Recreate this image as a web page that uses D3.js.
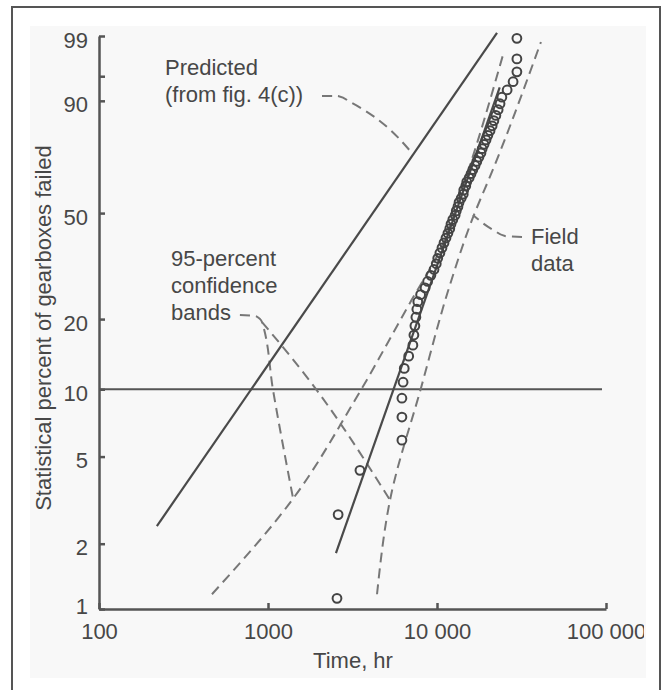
<!DOCTYPE html>
<html lang="en">
<head>
  <meta charset="utf-8">
  <title>Gearbox failures - Weibull plot</title>
  <style>
    body {
      margin: 0;
      background: #fff;
    }

    text {
      font-family: "Liberation Sans", Arial, sans-serif;
      fill: #474747;
    }

    .axis .domain,
    .axis line {
      stroke: #555;
      stroke-width: 2.5;
    }

    .axis text {
      font-size: 22px;
      fill: #474747;
    }
  </style>
</head>

<body>
  <svg width="670" height="690"></svg>
  <script src="https://d3js.org/d3.v7.min.js"></script>
  <script>
    // field data: failure time (hr) and median-rank percent
    var failTimes = [2560, 2600, 3500, 6200, 6200, 6200, 6300, 6400, 6800, 7200,
      7300, 7400, 7500, 7600, 7700, 8000, 8500, 8800, 9200, 9600,
      9900, 10100, 10400, 10700, 11000, 11300, 11600, 11900, 12100, 12400,
      12800, 13000, 13300, 13500, 13900, 14300, 14400, 14800, 15000, 15500,
      15900, 16300, 16800, 17200, 17700, 18200, 18500, 19000, 19500, 20000,
      20600, 21200, 21700, 22300, 23000, 23600, 24200, 26000, 28200, 29700,
      29700, 29700];
    var failPercent = [1.12, 2.72, 4.33, 5.93, 7.53, 9.13, 10.74, 12.34, 13.94, 15.54,
      17.15, 18.75, 20.35, 21.96, 23.56, 25.16, 26.76, 28.37, 29.97, 31.57,
      33.17, 34.78, 36.38, 37.98, 39.58, 41.19, 42.79, 44.39, 45.99, 47.60,
      49.20, 50.80, 52.40, 54.01, 55.61, 57.21, 58.81, 60.42, 62.02, 63.62,
      65.22, 66.83, 68.43, 70.03, 71.63, 73.24, 74.84, 76.44, 78.04, 79.65,
      81.25, 82.85, 84.46, 86.06, 87.66, 89.26, 90.87, 92.47, 94.07, 95.67,
      97.28, 98.88];

    // lines as [time, percent]
    var predictedLine = [[220, 2.41], [22650, 99.14]];
    var fieldFit = [[2524, 1.81], [23500, 93]];
    var lowerBand = [[466, 1.17], [1387, 3.17], [3273, 8.96], [6918, 23.3], [10420, 37.3], [14660, 62.7], [24600, 97.7]];
    var upperBand = [[4416, 1.17], [5272, 3.17], [8035, 10.11], [11620, 26.0], [16110, 47.5], [21720, 67.8], [41200, 98.67]];
    var tenPercentLine = [[100, 10], [94700, 10]];

    // leader lines for the notes
    var predictedLeader = [[2087, 91.14], [2596, 91.14], [3057, 89.7], [7115, 73.2]];
    var fieldLeader = [[31840, 41.52], [25260, 41.86], [22030, 43.6], [16330, 49.3]];
    var bandsLeaderA = [[682, 20.78], [849, 20.58], [921, 19.44], [1071, 9.92], [1406, 3.24]];
    var bandsLeaderB = [[921, 19.44], [1546, 12.37], [5272, 3.17]];

    var xTicks = [100, 1000, 10000, 100000];
    var xTickLabels = ["100", "1000", "10 000", "100 000"];
    var yTicks = [1, 2, 5, 10, 20, 50, 90, 95, 99];
    var yTickLabels = ["1", "2", "5", "10", "20", "50", "90", "", "99"];

    const svg = d3.select("svg");

    // weibull probability transform
    function weib(p) {
      return Math.log(-Math.log(1 - p / 100));
    }

    var x = d3.scaleLog()
      .domain([100, 100000])
      .range([99, 606]);

    var yW = d3.scaleLinear()
      .domain([weib(1), weib(99)])
      .range([609, 36]);

    function y(p) {
      return yW(weib(p));
    }

    // frame and light panel
    svg.append("rect")
      .attr("x", 12).attr("y", 7)
      .attr("width", 648).attr("height", 720)
      .attr("fill", "#fff")
      .attr("stroke", "#555")
      .attr("stroke-width", 2);

    svg.append("rect")
      .attr("x", 30).attr("y", 26)
      .attr("width", 616).attr("height", 652)
      .attr("fill", "#f8f8f8");

    svg.append("clipPath").attr("id", "panel")
      .append("rect")
      .attr("x", 30).attr("y", 26)
      .attr("width", 614).attr("height", 652);

    const g = svg.append("g").attr("clip-path", "url(#panel)");

    var line = d3.line()
      .x(function (d) { return x(d[0]); })
      .y(function (d) { return y(d[1]); });

    // axes
    var xAxis = d3.axisBottom(x)
      .tickValues(xTicks)
      .tickSizeInner(-6)
      .tickSizeOuter(0)
      .tickPadding(14)
      .tickFormat(function (d, i) { return xTickLabels[i]; });

    var yAxis = d3.axisLeft(yW)
      .tickValues(yTicks.map(weib))
      .tickSizeInner(-6)
      .tickSizeOuter(0)
      .tickPadding(11)
      .tickFormat(function (d, i) { return yTickLabels[i]; });

    g.append("g")
      .attr("class", "x axis")
      .attr("transform", "translate(0,609)")
      .call(xAxis);

    g.append("g")
      .attr("class", "y axis")
      .attr("transform", "translate(99,0)")
      .call(yAxis)
      .selectAll(".tick text")
      .attr("dy", function (d, i) { return i == 0 ? "0.2em" : "0.5em"; });

    // 10 percent reference line
    g.append("path")
      .attr("d", line(tenPercentLine))
      .attr("fill", "none")
      .attr("stroke", "#555")
      .attr("stroke-width", 2);

    // dashed bands and leaders
    [lowerBand, upperBand, predictedLeader, fieldLeader, bandsLeaderA, bandsLeaderB].forEach(function (pts) {
      g.append("path")
        .attr("d", line.curve(d3.curveMonotoneY)(pts))
        .attr("fill", "none")
        .attr("stroke", "#777")
        .attr("stroke-width", 2)
        .attr("stroke-dasharray", "10,6");
    });
    line.curve(d3.curveLinear);

    // solid lines
    [predictedLine, fieldFit].forEach(function (pts) {
      g.append("path")
        .attr("d", line(pts))
        .attr("fill", "none")
        .attr("stroke", "#4a4a4a")
        .attr("stroke-width", 2.2);
    });

    // field data points
    g.selectAll(".pt")
      .data(d3.zip(failTimes, failPercent))
      .enter().append("circle")
      .attr("class", "pt")
      .attr("cx", function (d) { return x(d[0]); })
      .attr("cy", function (d) { return y(d[1]); })
      .attr("r", 4.4)
      .attr("fill", "none")
      .attr("stroke", "#444")
      .attr("stroke-width", 2);

    // axis titles
    g.append("text")
      .attr("x", 353).attr("y", 668)
      .attr("text-anchor", "middle")
      .style("font-size", "22px")
      .text("Time, hr");

    g.append("text")
      .attr("transform", "translate(51,328) rotate(-90)")
      .attr("text-anchor", "middle")
      .style("font-size", "22px")
      .text("Statistical percent of gearboxes failed");

    // notes
    function note(lines, x0, y0) {
      var t = g.append("text").style("font-size", "22px");
      lines.forEach(function (s, i) {
        t.append("tspan").attr("x", x0).attr("y", y0 + i * 27).text(s);
      });
    }
    note(["Predicted", "(from fig. 4(c))"], 165, 75);
    note(["Field", "data"], 531, 244);
    note(["95-percent", "confidence", "bands"], 171, 266);
  </script>
</body>

</html>
